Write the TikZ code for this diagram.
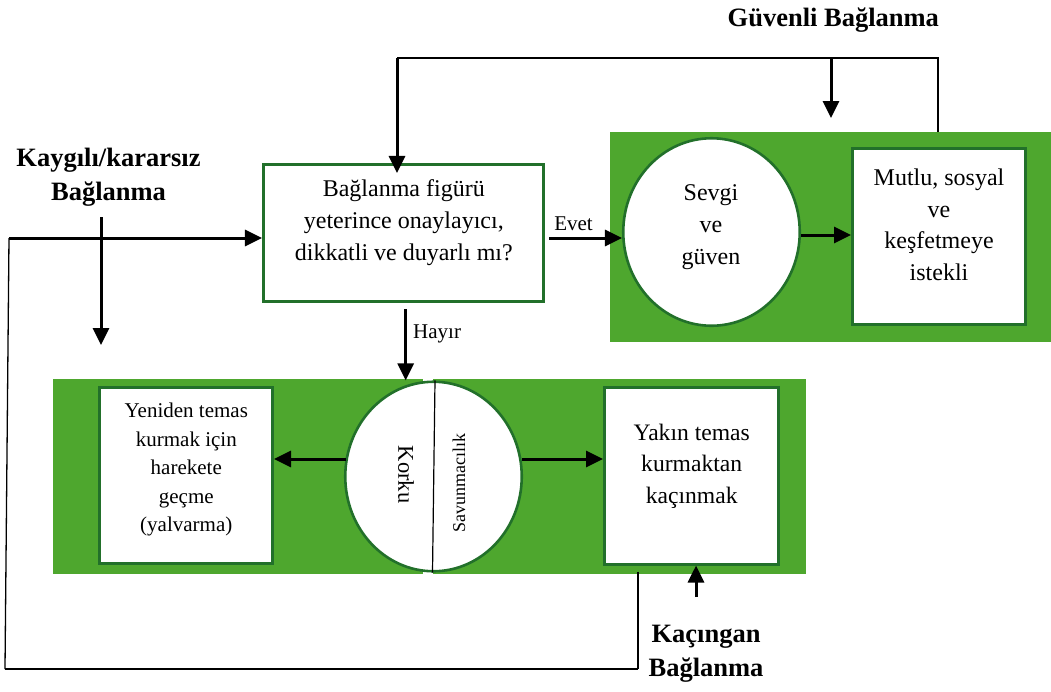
\documentclass[tikz,border=0pt]{standalone}
\usepackage{fontspec}
\setmainfont{Liberation Serif}
\usetikzlibrary{arrows.meta,shapes.geometric,calc}
\definecolor{gfill}{RGB}{78,167,46}
\definecolor{gline}{RGB}{34,112,42}
\begin{document}
\begin{tikzpicture}[x=1pt,y=-1pt,
  panel/.style={fill=gfill,draw=none,inner sep=0pt,outer sep=0pt},
  box/.style={draw=gline,line width=3pt,fill=white,inner sep=0pt},
  oval/.style={ellipse,draw=gline,line width=2.6pt,fill=white,inner sep=0pt},
  arr/.style={line width=3pt,-{Triangle[length=17pt,width=16pt]}},
  conn/.style={line width=1.3pt},
  txt/.style={align=center,font=\fontsize{24}{32}\selectfont,inner sep=0pt},
  stxt/.style={align=center,font=\fontsize{21}{28.5}\selectfont,inner sep=0pt},
  lbl/.style={align=center,font=\fontsize{26.5}{34}\selectfont\bfseries,inner sep=0pt},
  yn/.style={font=\fontsize{21}{24}\selectfont,inner sep=0pt},
]
\useasboundingbox (0,0) rectangle (1051,691);

% green panels
\node[panel,minimum width=441pt,minimum height=210pt] (ptop) at (830.5,237) {};
\node[panel,minimum width=370pt,minimum height=195pt] (pbl) at (237.5,476.5) {};
\node[panel,minimum width=373pt,minimum height=195pt] (pbr) at (619.5,476.5) {};

% main question box
\node[box,line width=2.6pt,minimum width=280.5pt,minimum height=137.5pt] (q) at (403.5,233) {};
\node[txt] (qt) at (403.8,222.9) {Bağlanma figürü\\yeterince onaylayıcı,\\dikkatli ve duyarlı mı?};

% top right
\node[oval,minimum width=176.5pt,minimum height=187.5pt] (love) at (711.5,232) {};
\node[txt] (lovet) at (711,227.6) {Sevgi\\ve\\güven};
\node[box,minimum width=173pt,minimum height=176pt] (happy) at (939,236.5) {};
\node[txt,font=\fontsize{24}{31.5}\selectfont] (happyt) at (939,224.8) {Mutlu, sosyal\\ve\\keşfetmeye\\istekli};

% bottom row
\node[oval,minimum width=176.5pt,minimum height=189.5pt] (fear) at (433.5,476.5) {};
\draw[line width=1.2pt] ($(fear.north)+(1.5,0)$) -- ($(fear.south)+(-1,0)$);
\node[rotate=-90,font=\fontsize{22.5}{26}\selectfont,inner sep=0pt] (korku) at (406,474.7) {Korku};
\node[rotate=90,font=\fontsize{18}{22}\selectfont,inner sep=0pt] (savun) at (459,483) {Savunmacılık};

\node[box,minimum width=173.5pt,minimum height=176.5pt] (lbox) at (185.8,475.3) {};
\node[stxt] (lboxt) at (186.3,469.9) {Yeniden temas\\kurmak için\\harekete\\geçme\\(yalvarma)};
\node[box,minimum width=173.5pt,minimum height=176.5pt] (rbox) at (691.3,475.8) {};
\node[txt,font=\fontsize{23.6}{31.5}\selectfont] (rboxt) at (691.7,465.9) {Yakın temas\\kurmaktan\\kaçınmak};

% labels
\node[lbl,anchor=base] (guv) at (833.3,26.7) {Güvenli Bağlanma};
\node[lbl] (kay) at (108.5,177.7) {Kaygılı/kararsız\\Bağlanma};
\node[lbl] (kac) at (706,654) {Kaçıngan\\Bağlanma};
\node[yn,anchor=base] (evet) at (573.5,230) {Evet};
\node[yn,anchor=base west] (hayir) at (413,338.3) {Hayır};

% coordinates for connectors
\coordinate (gr) at (938,58);
\coordinate (gl) at (397,58);
\coordinate (gs) at (831,58);
\coordinate (ge) at (831,118);
\coordinate (ev) at (549,238);
\coordinate (lh) at (0,235);
\coordinate (hy) at (405.7,309);
\coordinate (ks) at (101,217);
\coordinate (ke) at (101,345);
\coordinate (kl) at (9,238);
\coordinate (kb) at (5,669);
\coordinate (ac) at (638,669);
\coordinate (ab) at (696,597);
\coordinate (fl) at (346,459);
\coordinate (fr) at (522,459);

% Secure loop
\draw[conn] (ptop.north -| gr) -- (gr) -- (gl);
\draw[line width=2pt] (gl) -- (670,58);
\draw[arr] (gl) -- ([yshift=-10pt]gl |- q.north);
\draw[arr] (gs) -- (ge);

% Yes / No
\draw[arr] (ev) -- (ev -| love.west);
\draw[arr] (love.east |- lh) -- (happy.west |- lh);
\draw[arr] (hy) -- (hy |- fear.north);

% fear ellipse to boxes
\draw[arr] (fl) -- (lbox.east |- fl);
\draw[arr] (fr) -- (rbox.west |- fr);

% Anxious loop
\draw[conn] ([yshift=-6pt]ac |- rbox.south) -- (ac);
\draw[line width=1.8pt] (ac) -- (kb);
\draw[conn] (kb) -- (kl);
\draw[arr] (kl) -- (q.west |- kl);
\draw[arr] (ks) -- (ke);

% Avoidant arrow
\draw[arr] (ab) -- (ab |- rbox.south);
\end{tikzpicture}
\end{document}
